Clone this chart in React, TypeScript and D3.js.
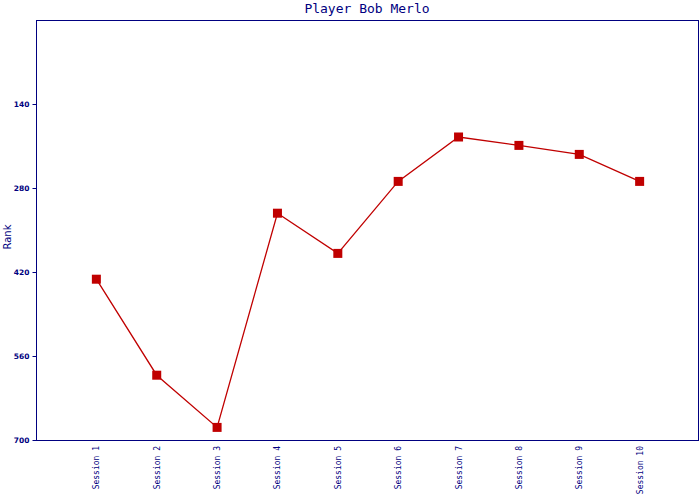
import React from "react";
import * as d3 from "d3";

const sessions = ["Session 1", "Session 2", "Session 3", "Session 4", "Session 5", "Session 6", "Session 7", "Session 8", "Session 9", "Session 10"];
const ranks = [432, 592, 679, 322, 389, 269, 195, 209, 224, 269];
const yTicks = [140, 280, 420, 560, 700];
const title = "Player Bob Merlo";
const yLabel = "Rank";

const W = 700, H = 500;
const left = 36.5, right = 698.5, top = 20, bottom = 440;
const navy = "#000080";
const red = "#c00000";

export default function App() {
  const x = d3.scalePoint<string>().domain(sessions).range([36, 700]).padding(1);
  const y = d3.scaleLinear().domain([0, 700]).range([top, bottom]);
  const line = d3.line<number>().x((_, i) => x(sessions[i])!).y((d) => y(d));
  return (
    <svg width={W} height={H} style={{ position: "absolute", left: 0, top: 0, background: "#fff" }}>
      <text x={367} y={13} textAnchor="middle" fontFamily="DejaVu Sans Mono" fontSize={13} fill={navy}>{title}</text>
      <rect x={left} y={top + 0.5} width={right - left} height={bottom - top} fill="none" stroke={navy} strokeWidth={1} />
      {yTicks.map((t) => (
        <g key={t}>
          <line x1={left - 4} x2={left} y1={y(t) + 0.5} y2={y(t) + 0.5} stroke={navy} />
          <text x={left - 7} y={y(t)} dy="0.35em" textAnchor="end" fontFamily="DejaVu Sans" fontWeight="bold" fontSize={7.5} fill={navy}>{t}</text>
        </g>
      ))}
      {sessions.map((s) => (
        <text key={s} transform={`translate(${x(s)! + 3},${446}) rotate(-90)`} textAnchor="end" fontFamily="DejaVu Sans Mono" fontSize={8} fill={navy}>{s}</text>
      ))}
      <text transform={`translate(11,237) rotate(-90)`} textAnchor="middle" fontFamily="DejaVu Sans" fontSize={10} fill={navy}>{yLabel}</text>
      <path d={line(ranks)!} fill="none" stroke={red} strokeWidth={1.3} />
      {ranks.map((r, i) => (
        <rect key={i} x={x(sessions[i])! - 4.5} y={y(r) - 4.5} width={9} height={9} fill={red} />
      ))}
    </svg>
  );
}
